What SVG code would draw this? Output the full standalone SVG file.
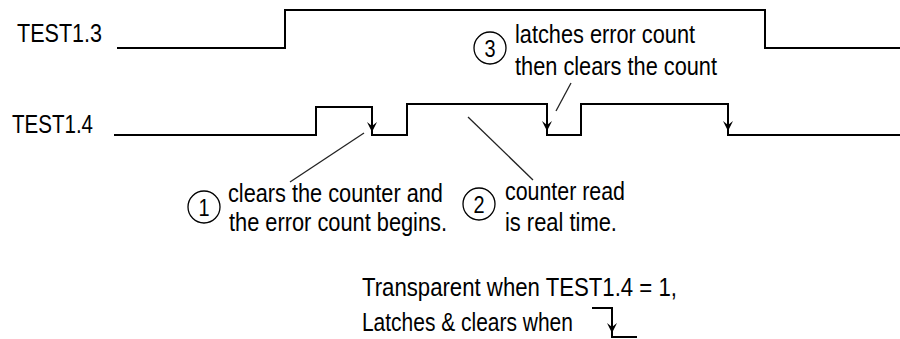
<svg xmlns="http://www.w3.org/2000/svg" width="900" height="339" viewBox="0 0 900 339">
<style>
.w{fill:none;stroke:#000;stroke-width:2}
.ld{fill:none;stroke:#222;stroke-width:1.3}
.c{fill:none;stroke:#000;stroke-width:1.3}
text{font-family:"Liberation Sans",Arial,sans-serif;font-size:26px;fill:#000}
.d{font-size:24px;text-anchor:middle}
</style>
<defs>
<path id="ah" d="M-5,-10 L0,-6 L5,-10 L0,0 Z" fill="#000"/>
</defs>
<rect width="900" height="339" fill="#fff"/>
<g id="test13">
<text transform="scale(.83 1)" x="20.5" y="42" textLength="102.4" lengthAdjust="spacingAndGlyphs">TEST1.3</text>
<path class="w" d="M117,48 H285 V10 H765 V48 H900"/>
</g>
<g id="test14">
<text transform="scale(.83 1)" x="14.5" y="133" textLength="97.6" lengthAdjust="spacingAndGlyphs">TEST1.4</text>
<path class="w" d="M114,135 H316 V107 H372 V135 H407 V104 H547 V135 H581 V104 H728 V135 H900"/>
<use href="#ah" x="372" y="132"/>
<use href="#ah" x="547" y="131"/>
<use href="#ah" x="728" y="131"/>
</g>
<g id="note3">
<circle class="c" cx="490" cy="48" r="16"/>
<text class="d" transform="scale(.83 1)" x="590.4" y="57">3</text>
<text transform="scale(.83 1)" x="620.5" y="43" textLength="216.9" lengthAdjust="spacingAndGlyphs">latches error count</text>
<text transform="scale(.83 1)" x="620.5" y="75" textLength="243.4" lengthAdjust="spacingAndGlyphs">then clears the count</text>
</g>
<g id="note1">
<circle class="c" cx="204" cy="207" r="16"/>
<text class="d" transform="scale(.83 1)" x="245.8" y="216">1</text>
<text transform="scale(.83 1)" x="274.7" y="202" textLength="259" lengthAdjust="spacingAndGlyphs">clears the counter and</text>
<text transform="scale(.83 1)" x="275.9" y="231" textLength="262.7" lengthAdjust="spacingAndGlyphs">the error count begins.</text>
</g>
<g id="note2">
<circle class="c" cx="479" cy="204" r="16"/>
<text class="d" transform="scale(.83 1)" x="577.1" y="213">2</text>
<text transform="scale(.83 1)" x="608.4" y="200" textLength="144.6" lengthAdjust="spacingAndGlyphs">counter read</text>
<text transform="scale(.83 1)" x="608.4" y="231" textLength="134.9" lengthAdjust="spacingAndGlyphs">is real time.</text>
</g>
<g id="legend">
<text transform="scale(.83 1)" x="436.1" y="296" textLength="379.5" lengthAdjust="spacingAndGlyphs">Transparent when TEST1.4 = 1,</text>
<text transform="scale(.83 1)" x="436.1" y="331" textLength="254.2" lengthAdjust="spacingAndGlyphs">Latches &amp; clears when</text>
<path class="w" d="M592,308 H612 V337 H637"/>
<use href="#ah" x="612" y="333"/>
</g>
<g id="connectors">
<line class="ld" x1="364" y1="133" x2="290" y2="182"/>
<line class="ld" x1="468" y1="117" x2="533" y2="180"/>
<line class="ld" x1="571" y1="83" x2="556" y2="111"/>
</g>
</svg>
